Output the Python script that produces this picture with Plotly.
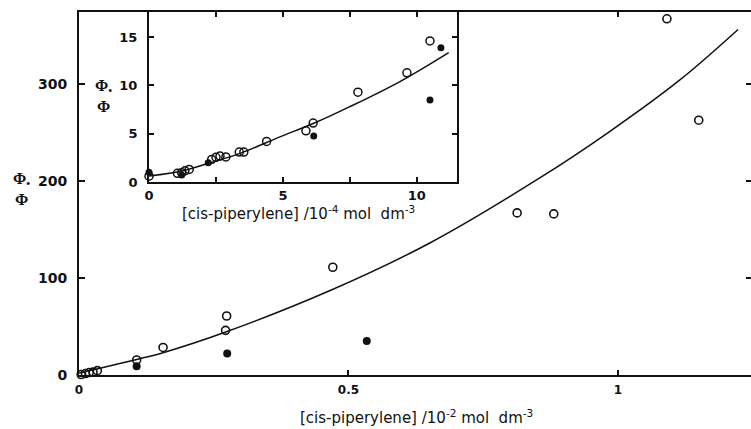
import plotly.graph_objects as go

# Main panel: quantum-yield ratio vs [cis-piperylene] / 10^-2 mol dm^-3
main_open_x = [0.004, 0.012, 0.019, 0.026, 0.034, 0.107, 0.156, 0.272, 0.274, 0.471, 0.813, 0.881, 1.091, 1.150]
main_open_y = [0.5, 1.5, 2.5, 3.0, 4.5, 15.5, 28.4, 46.0, 60.8, 111.0, 167.0, 166.0, 367.0, 262.5]
main_fill_x = [0.107, 0.275, 0.534]
main_fill_y = [8.9, 22.2, 35.0]
main_curve_x = [0.0, 0.039, 0.107, 0.156, 0.271, 0.466, 0.651, 0.855, 0.980, 1.115, 1.223]
main_curve_y = [2.0, 7.0, 16.0, 23.0, 44.0, 87.0, 136.0, 203.0, 249.0, 304.0, 356.0]
main_xticks = [0, 0.5, 1]
main_xlabels = ["0", "0.5", "1"]
main_yticks = [0, 100, 200, 300]

# Inset: low-concentration region, [cis-piperylene] / 10^-4 mol dm^-3
ins_open_x = [0.0, 1.06, 1.22, 1.34, 1.50, 2.34, 2.50, 2.65, 2.87, 3.37, 3.54, 4.39, 5.86, 6.13, 7.80, 9.63, 10.49]
ins_open_y = [0.6, 0.9, 0.96, 1.16, 1.3, 2.34, 2.55, 2.68, 2.6, 3.1, 3.1, 4.2, 5.3, 6.1, 9.3, 11.3, 14.6]
ins_fill_x = [0.0, 1.22, 2.21, 6.15, 10.49, 10.90]
ins_fill_y = [1.0, 0.72, 2.0, 4.75, 8.5, 13.9]
ins_curve_x = [0.0, 1.28, 2.28, 3.40, 4.89, 6.13, 7.50, 9.37, 11.19]
ins_curve_y = [0.62, 1.17, 1.99, 2.96, 4.67, 6.05, 7.8, 10.4, 13.4]
ins_xticks = [0, 2.5, 5, 7.5, 10]
ins_xlabels = ["0", "", "5", "", "10"]
ins_yticks = [0, 5, 10, 15]

INK = "#111111"
SANS = "DejaVu Sans"

fig = go.Figure()

# main panel
fig.add_trace(go.Scatter(x=main_curve_x, y=main_curve_y, mode="lines",
                         line=dict(color=INK, width=1.5, shape="spline", smoothing=1.0),
                         xaxis="x", yaxis="y", hoverinfo="skip"))
fig.add_trace(go.Scatter(x=main_open_x, y=main_open_y, mode="markers", cliponaxis=False,
                         marker=dict(symbol="circle-open", size=8, color=INK, line=dict(width=1.6, color=INK)),
                         xaxis="x", yaxis="y"))
fig.add_trace(go.Scatter(x=main_fill_x, y=main_fill_y, mode="markers", cliponaxis=False,
                         marker=dict(symbol="circle", size=8, color=INK),
                         xaxis="x", yaxis="y"))
# right-hand tick marks of the main frame
fig.add_trace(go.Scatter(x=[None], y=[None], xaxis="x", yaxis="y3", showlegend=False, hoverinfo="skip"))

# inset panel
fig.add_trace(go.Scatter(x=ins_curve_x, y=ins_curve_y, mode="lines",
                         line=dict(color=INK, width=1.5, shape="spline", smoothing=1.0),
                         xaxis="x2", yaxis="y2", hoverinfo="skip"))
fig.add_trace(go.Scatter(x=ins_open_x, y=ins_open_y, mode="markers", cliponaxis=False,
                         marker=dict(symbol="circle-open", size=8, color=INK, line=dict(width=1.5, color=INK)),
                         xaxis="x2", yaxis="y2"))
fig.add_trace(go.Scatter(x=ins_fill_x, y=ins_fill_y, mode="markers", cliponaxis=False,
                         marker=dict(symbol="circle", size=7, color=INK),
                         xaxis="x2", yaxis="y2"))

axis_common = dict(showgrid=False, zeroline=False, showline=True, linecolor=INK,
                   ticks="inside", tickcolor=INK, tickwidth=1.5)

fig.update_layout(
    width=751, height=429,
    margin=dict(l=79, r=0, t=12, b=54),
    paper_bgcolor="white", plot_bgcolor="white",
    showlegend=False,
    xaxis=dict(**axis_common, domain=[0, 1], range=[0, 1.247], linewidth=2, ticklen=5,
               mirror="ticks", tickvals=main_xticks, ticktext=main_xlabels,
               tickfont=dict(family=SANS, size=12, color=INK, weight="bold"),
               ticklabelstandoff=3),
    yaxis=dict(**axis_common, domain=[0, 1], range=[0, 374], linewidth=2, ticklen=6,
               tickvals=main_yticks,
               tickfont=dict(family=SANS, size=14, color=INK, weight="bold"),
               ticklabelstandoff=7),
    yaxis3=dict(overlaying="y", side="right", range=[0, 374], showgrid=False, zeroline=False,
                showline=False, ticks="inside", ticklen=5, tickcolor=INK, tickwidth=1.5,
                tickvals=[100, 200, 300], showticklabels=False),
    xaxis2=dict(**axis_common, domain=[0.1042, 0.5625], anchor="y2", range=[0, 11.5],
                linewidth=2, ticklen=5, mirror="ticks",
                tickvals=ins_xticks, ticktext=ins_xlabels,
                tickfont=dict(family=SANS, size=13, color=INK, weight="bold"),
                ticklabelstandoff=0),
    yaxis2=dict(**axis_common, domain=[0.5317, 1], anchor="x2", range=[0, 17.6],
                linewidth=2, ticklen=5, mirror="ticks",
                tickvals=ins_yticks,
                tickfont=dict(family=SANS, size=13, color=INK, weight="bold"),
                ticklabelstandoff=7),
)

title_font = dict(family=SANS, size=15, color=INK)
phi_font = dict(family="Liberation Serif", size=16, color=INK, weight="bold")

# stacked ratio symbol used as the y-axis label of each panel
PHI_LABEL = "Φ<sub>•</sub><br>Φ"

fig.update_layout(annotations=[
    dict(text="[cis-piperylene] /10<sup>-2</sup> mol  dm<sup>-3</sup>", xref="paper", yref="paper",
         x=0.5015, y=-0.115, xanchor="center", yanchor="middle", showarrow=False, font=title_font),
    dict(text="[cis-piperylene] /10<sup>-4</sup> mol  dm<sup>-3</sup>", xref="paper", yref="paper",
         x=0.326, y=0.446, xanchor="center", yanchor="middle", showarrow=False, font=title_font),
    dict(text=PHI_LABEL, xref="paper", yref="paper", x=-0.086, y=0.512,
         xanchor="center", yanchor="middle", showarrow=False, font=phi_font),
    dict(text=PHI_LABEL, xref="paper", yref="paper", x=0.037, y=0.769,
         xanchor="center", yanchor="middle", showarrow=False, font=phi_font),
])

fig.write_html("out.html")
